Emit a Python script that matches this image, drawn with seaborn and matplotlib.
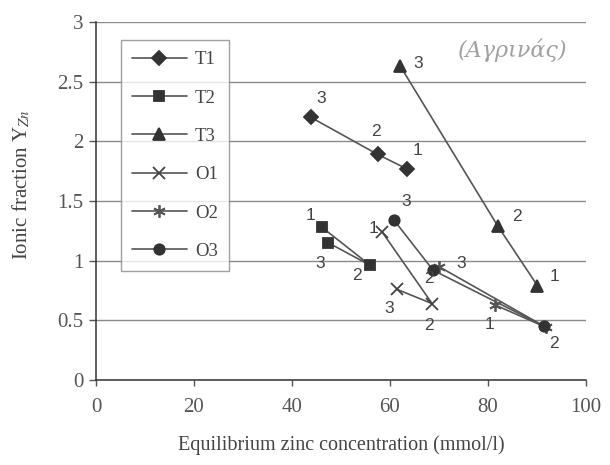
import matplotlib
matplotlib.use("Agg")
import matplotlib.pyplot as plt
import seaborn as sns
import pandas as pd
from matplotlib.lines import Line2D

# ---- data (points in order 1, 2, 3) ----
series = ["T1", "T2", "T3", "O1", "O2", "O3"]
T1_x = [63.4, 57.5, 43.9]; T1_y = [1.77, 1.89, 2.20]
T2_x = [46.1, 56.0, 47.4]; T2_y = [1.28, 0.96, 1.15]
T3_x = [90.1, 82.0, 62.1]; T3_y = [0.79, 1.29, 2.63]
O1_x = [58.4, 68.6, 61.4]; O1_y = [1.24, 0.64, 0.76]
O2_x = [81.4, 91.9, 70.0]; O2_y = [0.63, 0.44, 0.95]
O3_x = [91.5, 68.8, 60.8]; O3_y = [0.45, 0.92, 1.34]
point_labels = ["1", "2", "3"]
x_ticks = [0, 20, 40, 60, 80, 100]
y_ticks = [0, 0.5, 1, 1.5, 2, 2.5, 3]
y_ticklabels = ["0", "0.5", "1", "1.5", "2", "2.5", "3"]

xs = {"T1": T1_x, "T2": T2_x, "T3": T3_x, "O1": O1_x, "O2": O2_x, "O3": O3_x}
ys = {"T1": T1_y, "T2": T2_y, "T3": T3_y, "O1": O1_y, "O2": O2_y, "O3": O3_y}

rows = []
for s in series:
    for i, (x, y) in enumerate(zip(xs[s], ys[s])):
        rows.append({"series": s, "order": i, "x": x, "y": y, "lab": point_labels[i]})
df = pd.DataFrame(rows)

# ---- style ----
sns.set_theme(style="white")
plt.rcParams["font.family"] = ["Liberation Serif", "DejaVu Serif"]
plt.rcParams["mathtext.fontset"] = "stix"

markers = {"T1": "D", "T2": "s", "T3": "^", "O1": "x", "O2": (6, 2, 0), "O3": "o"}
msizes = {"T1": 7, "T2": 7.5, "T3": 9, "O1": 9, "O2": 9, "O3": 7.5}
mcolors = {"T1": "#333333", "T2": "#333333", "T3": "#333333",
           "O1": "#444444", "O2": "#555555", "O3": "#333333"}
line_color = "#555555"

# label offsets in pixels (dx right, dy down) for points 1,2,3
offsets = {
    "T1": [(11, -18), (-2, -23), (10, -19)],
    "T2": [(-11, -12), (-13, 10), (-8, 21)],
    "T3": [(17, -9), (19, -10), (18, -3)],
    "O1": [(-9, -4), (-3, 22), (-8, 19)],
    "O2": [(-5, 20), (8, 16), (22, -3)],
    "O3": [None, (-4, 8), (12, -19)],
}

fig = plt.figure(figsize=(6.10, 4.65), dpi=100)
ax = fig.add_axes([96 / 610, 1 - 380 / 465, 490 / 610, 358 / 465])

for s in series:
    d = df[df["series"] == s].sort_values("order")
    sns.lineplot(data=d, x="x", y="y", sort=False, estimator=None, ax=ax,
                 color=line_color, linewidth=1.2, marker=markers[s],
                 markersize=msizes[s], markerfacecolor=mcolors[s],
                 markeredgecolor=mcolors[s], markeredgewidth=1.3,
                 legend=False, zorder=3)
    for (_, r), off in zip(d.iterrows(), offsets[s]):
        if off is None:
            continue
        ax.annotate(r["lab"], (r["x"], r["y"]), xytext=(off[0] * 0.72, -off[1] * 0.72),
                    textcoords="offset points", ha="center", va="center",
                    fontsize=12.5, color="#444444",
                    family=["Liberation Sans", "DejaVu Sans"], zorder=4)

ax.set_xlim(0, 100)
ax.set_ylim(0, 3)
ax.set_xticks(x_ticks)
ax.set_xticklabels([str(v) for v in x_ticks])
ax.set_yticks(y_ticks)
ax.set_yticklabels(y_ticklabels)
ax.yaxis.grid(True, color="#8a8a8a", linewidth=1.0)
ax.xaxis.grid(False)
for sp in ["top", "right"]:
    ax.spines[sp].set_visible(False)
for sp in ["left", "bottom"]:
    ax.spines[sp].set_color("#333333")
    ax.spines[sp].set_linewidth(1.1)
ax.tick_params(axis="y", which="both", left=True, length=5, width=1, color="#555555",
               labelsize=15, labelcolor="#555555", pad=4)
ax.tick_params(axis="x", which="both", bottom=True, length=4, width=1, color="#555555",
               labelsize=15, labelcolor="#555555", pad=9)

ax.set_xlabel("Equilibrium zinc concentration (mmol/l)", fontsize=14.5, color="#444444",
              va="center")
ax.xaxis.set_label_coords(0.5, -(445 - 380) / 358)
ax.set_ylabel(r"Ionic fraction Y$_{Zn}$", fontsize=15, color="#444444")
ax.yaxis.set_label_coords((32 - 96) / 490, (380 - 185) / 358)

# handwritten note
ax.text(85, 2.76, "(Αγρινάς)", fontsize=16, color="#a0a0a0", style="italic",
        ha="center", va="center", family=["DejaVu Serif"])

handles = [Line2D([0], [0], color=line_color, linewidth=1.2, marker=markers[s],
                  markersize=msizes[s], markerfacecolor=mcolors[s],
                  markeredgecolor=mcolors[s], markeredgewidth=1.3) for s in series]
leg = ax.legend(handles, series, loc="upper left", bbox_to_anchor=(25 / 490, 1 - 18 / 358),
                borderaxespad=0, frameon=True, fancybox=False, fontsize=13.5,
                handlelength=2.9, handletextpad=0.45, labelspacing=1.13, borderpad=0.6,
                labelcolor="#444444")
leg.get_frame().set_edgecolor("#888888")
leg.get_frame().set_linewidth(1.0)
leg.get_frame().set_facecolor("white")

fig.savefig("out.png", dpi=100, facecolor="white")
